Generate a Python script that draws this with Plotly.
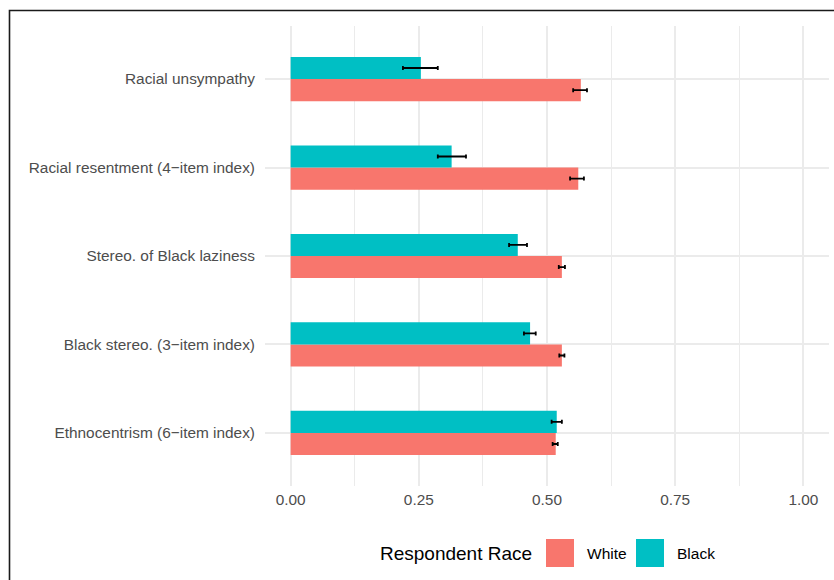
import plotly.graph_objects as go

# Measures, listed top to bottom as they appear on the chart
measures = [
    "Racial unsympathy",
    "Racial resentment (4\u2212item index)",
    "Stereo. of Black laziness",
    "Black stereo. (3\u2212item index)",
    "Ethnocentrism (6\u2212item index)",
]

# Mean scores and confidence bounds by respondent race
white_mean = [0.566, 0.561, 0.529, 0.529, 0.517]
white_low = [0.551, 0.545, 0.523, 0.524, 0.511]
white_high = [0.578, 0.572, 0.535, 0.534, 0.521]

black_mean = [0.254, 0.314, 0.443, 0.467, 0.519]
black_low = [0.219, 0.287, 0.426, 0.455, 0.509]
black_high = [0.287, 0.342, 0.461, 0.478, 0.529]

groups = ["White", "Black"]
colors = {"White": "#F8766D", "Black": "#00BFC4"}

x_ticks = [0, 0.25, 0.5, 0.75, 1.0]

series = {
    "White": (white_mean, white_low, white_high),
    "Black": (black_mean, black_low, black_high),
}

W, H = 834, 580
ML, MR, MT, MB = 265, 5, 26, 94
PW, PH = W - ML - MR, H - MT - MB


def px_x(px):
    return (px - ML) / PW


def px_y(py):
    return (H - MB - py) / PH


fig = go.Figure()
for g in groups:
    mean, low, high = series[g]
    fig.add_trace(go.Bar(
        name=g,
        y=measures,
        x=mean,
        orientation="h",
        marker=dict(color=colors[g], line=dict(width=0)),
        error_x=dict(
            type="data",
            symmetric=False,
            array=[h - m for h, m in zip(high, mean)],
            arrayminus=[m - lo for m, lo in zip(mean, low)],
            color="black",
            thickness=1.8,
            width=2,
        ),
        showlegend=False,
    ))

font_family = "Liberation Sans, Arial, Helvetica, sans-serif"
tick_size = 15.4

fig.update_layout(
    width=W,
    height=H,
    margin=dict(l=ML, r=MR, t=MT, b=MB),
    paper_bgcolor="white",
    plot_bgcolor="white",
    barmode="group",
    bargap=0.5,
    bargroupgap=0,
    font=dict(family=font_family, size=tick_size, color="#4D4D4D"),
    xaxis=dict(
        range=[-0.05, 1.05],
        tickvals=x_ticks,
        tickformat=".2f",
        showgrid=True,
        gridcolor="#EBEBEB",
        gridwidth=1.7,
        minor=dict(dtick=0.125, tick0=0, showgrid=True,
                   gridcolor="#EBEBEB", gridwidth=1.4),
        zeroline=False,
        showline=False,
        ticks="",
        ticklabelstandoff=3,
        tickfont=dict(size=tick_size, color="#4D4D4D"),
        fixedrange=True,
    ),
    yaxis=dict(
        categoryorder="array",
        categoryarray=measures[::-1],
        range=[-0.6, len(measures) - 0.4],
        showgrid=True,
        gridcolor="#EBEBEB",
        gridwidth=1.7,
        zeroline=False,
        showline=False,
        ticks="",
        ticklabelstandoff=9,
        tickfont=dict(size=tick_size, color="#4D4D4D"),
        fixedrange=True,
    ),
)

# Outer frame around the figure
shapes = [dict(
    type="rect", xref="paper", yref="paper",
    x0=px_x(9.5), x1=px_x(W + 20), y0=px_y(H + 20), y1=px_y(10.5),
    line=dict(color="#1a1a1a", width=1.6), fillcolor="rgba(0,0,0,0)",
    layer="above",
)]

annotations = [dict(
    text="Respondent Race", xref="paper", yref="paper",
    x=px_x(534), y=px_y(553), xanchor="right", yanchor="middle",
    showarrow=False, font=dict(family=font_family, size=19, color="black"),
)]

# Legend keys and labels
key_left = [546, 636]
for g, kx in zip(groups, key_left):
    shapes.append(dict(
        type="rect", xref="paper", yref="paper",
        x0=px_x(kx), x1=px_x(kx + 28), y0=px_y(567), y1=px_y(539),
        fillcolor=colors[g], line=dict(width=0),
    ))
    annotations.append(dict(
        text=g, xref="paper", yref="paper",
        x=px_x(kx + 39), y=px_y(553), xanchor="left", yanchor="middle",
        showarrow=False, font=dict(family=font_family, size=15.5, color="black"),
    ))

fig.update_layout(shapes=shapes, annotations=annotations)

fig.write_html("out.html")
